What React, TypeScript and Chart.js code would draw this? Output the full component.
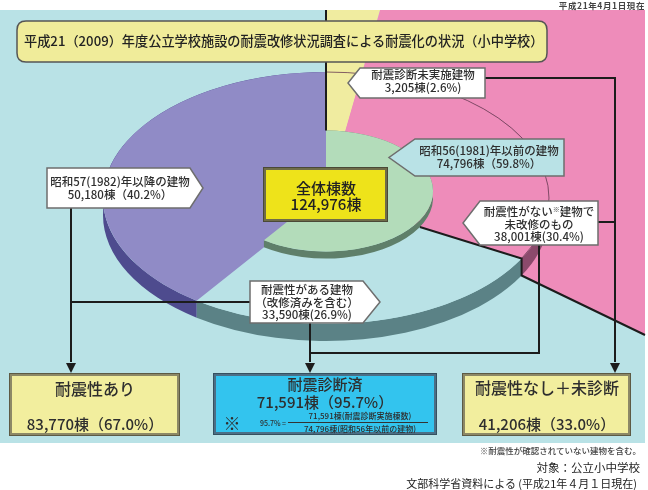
import React, { useEffect, useRef } from "react";
import { Chart, registerables } from "chart.js";

Chart.register(...registerables);

// ---------------- data ----------------
const totalBuildings = 124976;
const outerLabels = [
  "耐震診断未実施建物",
  "耐震性がない建物で未改修のもの",
  "耐震性がある建物（改修済みを含む）",
  "昭和57(1982)年以降の建物",
];
const outerValues = [3205, 38001, 33590, 50180];
const innerLabels = ["昭和56(1981)年以前の建物", "昭和57(1982)年以降の建物"];
const innerValues = [74796, 50180];
const summaryLabels = ["耐震性あり", "耐震診断済", "耐震性なし＋未診断"];
const summaryValues = [83770, 71591, 41206];
const summaryBases = [124976, 74796, 124976];

// ---------------- colours ----------------
const BG = "#b9e2e6";
const outerTop = ["#f0eca0", "#ee8cba", "#b9e2e6", "#908bc6"];
const outerRim = ["#b8b060", "#8b4a6c", "#5b8286", "#4e4b8e"];
const innerTop = ["#b3dcba", "rgba(0,0,0,0)"];
const innerRim = ["#5f7f6a", null];
const FONT = "'Noto Sans CJK JP', 'Noto Sans', sans-serif";
const TXT = "#2e2e2e";

// ---------------- layout ----------------
const W = 648;
const H = 490;
const CX = 326;
const R = 223;
const SURF_Y = 198;
const K = 0.565;
const DEPTH = 17;
const INNER_RATIO = 0.48;
const INNER_LIFT = 7;
const INNER_DEPTH = 7;
const BG_TOP = 10;
const BG_BOTTOM = 443;
const BG_RIGHT = 645;
const PINK_LOW_Y = 335;

const fmt = (v: number) => v.toLocaleString("en-US");
const pct = (v: number, base = totalBuildings) => ((v / base) * 100).toFixed(1);

function pt(cx: number, cy: number, r: number, phi: number): [number, number] {
  return [cx + r * Math.cos(phi), cy + r * K * Math.sin(phi)];
}
function rayX(cx: number, cy: number, phi: number, y: number) {
  const t = (y - cy) / (Math.sin(phi) * K);
  return cx + Math.cos(phi) * t;
}
function poly(ctx: CanvasRenderingContext2D, pts: number[][]) {
  ctx.beginPath();
  ctx.moveTo(pts[0][0], pts[0][1]);
  for (let i = 1; i < pts.length; i++) ctx.lineTo(pts[i][0], pts[i][1]);
  ctx.stroke();
}
function arrowDown(ctx: CanvasRenderingContext2D, x: number, tip: number) {
  ctx.beginPath();
  ctx.moveTo(x - 5, tip - 10);
  ctx.lineTo(x + 5, tip - 10);
  ctx.lineTo(x, tip);
  ctx.closePath();
  ctx.fill();
}
function callout(
  ctx: CanvasRenderingContext2D,
  l: number, t: number, r: number, b: number, tip: number, dir: "l" | "r", fill: string
) {
  const my = (t + b) / 2;
  ctx.beginPath();
  if (dir === "r") {
    ctx.moveTo(l, t); ctx.lineTo(r, t); ctx.lineTo(tip, my); ctx.lineTo(r, b); ctx.lineTo(l, b);
  } else {
    ctx.moveTo(r, t); ctx.lineTo(l, t); ctx.lineTo(tip, my); ctx.lineTo(l, b); ctx.lineTo(r, b);
  }
  ctx.closePath();
  ctx.fillStyle = fill;
  ctx.fill();
  ctx.lineWidth = 1.5;
  ctx.strokeStyle = "#6e6e6e";
  ctx.stroke();
}
function frameBox(
  ctx: CanvasRenderingContext2D,
  l: number, t: number, r: number, b: number, fill: string, border: string, outerLine: string
) {
  ctx.fillStyle = fill;
  ctx.fillRect(l, t, r - l, b - t);
  ctx.lineWidth = 3;
  ctx.strokeStyle = border;
  ctx.strokeRect(l + 1.5, t + 1.5, r - l - 3, b - t - 3);
  ctx.lineWidth = 1;
  ctx.strokeStyle = outerLine;
  ctx.strokeRect(l + 0.5, t + 0.5, r - l - 1, b - t - 1);
}

function drawBackground(chart: any) {
  const ctx: CanvasRenderingContext2D = chart.ctx;
  const outer = chart.getDatasetMeta(0).data as any[];
  ctx.save();
  ctx.fillStyle = "#ffffff";
  ctx.fillRect(0, 0, W, H);
  ctx.fillStyle = BG;
  ctx.fillRect(0, BG_TOP, BG_RIGHT, BG_BOTTOM - BG_TOP);
  if (outer.length) {
    const cx = outer[0].x;
    const r = outer[0].outerRadius;
    const yellow = outer[0];
    const pink = outer[1];
    const xTop = rayX(cx, SURF_Y, pink.startAngle, BG_TOP);
    ctx.beginPath();
    ctx.moveTo(cx, SURF_Y);
    ctx.lineTo(rayX(cx, SURF_Y, yellow.startAngle, BG_TOP), BG_TOP);
    ctx.lineTo(xTop, BG_TOP);
    ctx.closePath();
    ctx.fillStyle = outerTop[0];
    ctx.fill();
    const [ex, ey] = pt(cx, SURF_Y, r, pink.endAngle);
    ctx.beginPath();
    ctx.moveTo(cx, SURF_Y);
    ctx.lineTo(xTop, BG_TOP);
    ctx.lineTo(BG_RIGHT, BG_TOP);
    ctx.lineTo(BG_RIGHT, PINK_LOW_Y);
    ctx.lineTo(ex, ey + DEPTH);
    ctx.lineTo(ex, ey);
    ctx.closePath();
    ctx.fillStyle = outerTop[1];
    ctx.fill();
  }
  ctx.restore();
}

function drawOverlay(chart: any) {
  const ctx: CanvasRenderingContext2D = chart.ctx;
  const outer = chart.getDatasetMeta(0).data as any[];
  const inner = chart.getDatasetMeta(1).data as any[];
  if (!outer.length || !inner.length) return;
  const cx = outer[0].x;
  const r = outer[0].outerRadius;
  const ri = inner[0].outerRadius;
  const yellow = outer[0];
  const pink = outer[1];
  ctx.save();
  // pie edge seen over the yellow and pink areas
  ctx.beginPath();
  ctx.ellipse(cx, SURF_Y, r, r * K, 0, yellow.startAngle, pink.endAngle);
  ctx.strokeStyle = "#6b3d57";
  ctx.lineWidth = 0.8;
  ctx.stroke();

  ctx.strokeStyle = "#1c1c1c";
  ctx.fillStyle = "#1c1c1c";
  ctx.lineWidth = 2;
  // slice boundary lines
  poly(ctx, [[cx, BG_TOP], [cx, SURF_Y - INNER_LIFT - ri * K]]);
  const [gx, gy] = pt(cx, SURF_Y, ri, pink.endAngle);
  const [ex, ey] = pt(cx, SURF_Y, r, pink.endAngle);
  poly(ctx, [[gx, gy], [ex, ey], [ex, ey + DEPTH], [BG_RIGHT, PINK_LOW_Y]]);

  // leader lines
  poly(ctx, [[71, 208], [71, 362]]);
  poly(ctx, [[71, 302], [250, 302]]);
  poly(ctx, [[310, 323], [310, 362]]);
  poly(ctx, [[310, 353], [539, 353], [539, 245]]);
  poly(ctx, [[485, 78], [615, 78], [615, 362]]);
  poly(ctx, [[598, 222], [615, 222]]);
  arrowDown(ctx, 71, 373);
  arrowDown(ctx, 310, 373);
  arrowDown(ctx, 615, 373);

  // title box
  const tl = 17, tt = 21, tr = 547, tb = 62, rad = 9;
  ctx.beginPath();
  ctx.moveTo(tl + rad, tt);
  ctx.lineTo(tr - rad, tt);
  ctx.quadraticCurveTo(tr, tt, tr, tt + rad);
  ctx.lineTo(tr, tb - rad);
  ctx.quadraticCurveTo(tr, tb, tr - rad, tb);
  ctx.lineTo(tl + rad, tb);
  ctx.quadraticCurveTo(tl, tb, tl, tb - rad);
  ctx.lineTo(tl, tt + rad);
  ctx.quadraticCurveTo(tl, tt, tl + rad, tt);
  ctx.closePath();
  ctx.fillStyle = "#f0ec9a";
  ctx.fill();
  ctx.lineWidth = 1.5;
  ctx.strokeStyle = "#555";
  ctx.stroke();

  // callouts
  callout(ctx, 47, 168, 190, 208, 203, "r", "#ffffff");
  callout(ctx, 360, 68, 485, 98, 348, "l", "#ffffff");
  callout(ctx, 415, 139, 564, 176, 389, "l", BG);
  callout(ctx, 480, 201, 598, 245, 463, "l", "#ffffff");
  callout(ctx, 250, 281, 363, 323, 380, "r", "#ffffff");

  // centre box
  frameBox(ctx, 263, 167, 388, 222, "#eee31a", "#6f6c48", "#4a4936");

  // bottom boxes
  frameBox(ctx, 9, 373, 180, 436, "#f2ee9e", "#8c8866", "#5d5a44");
  frameBox(ctx, 213, 373, 437, 435, "#33c4ee", "#4b6f86", "#35505f");
  frameBox(ctx, 462, 373, 631, 436, "#f2ee9e", "#8c8866", "#5d5a44");
  // fraction bar
  ctx.beginPath();
  ctx.moveTo(288, 422.5);
  ctx.lineTo(428, 422.5);
  ctx.lineWidth = 1;
  ctx.strokeStyle = "#333";
  ctx.stroke();
  ctx.restore();
}

const pieDeco = {
  id: "pieDeco",
  afterDatasetsUpdate(chart: any) {
    const m0 = chart.getDatasetMeta(0);
    m0.data.forEach((a: any) => {
      a.innerRadius = 0;
    });
  },
  beforeDraw(chart: any) {
    drawBackground(chart);
  },
  beforeDatasetDraw(chart: any, args: any) {
    const ctx: CanvasRenderingContext2D = chart.ctx;
    const isInner = args.index === 1;
    const arcs = args.meta.data as any[];
    ctx.save();
    if (!arcs.length) return;
    const cy = SURF_Y - (isInner ? INNER_LIFT : 0);
    ctx.translate(0, cy);
    ctx.scale(1, K);
    ctx.translate(0, -arcs[0].y);
    const rims = isInner ? innerRim : outerRim;
    const depth = (isInner ? INNER_DEPTH : DEPTH) / K;
    arcs.forEach((a: any, i: number) => {
      const col = rims[i];
      if (!col) return;
      ctx.beginPath();
      ctx.arc(a.x, a.y, a.outerRadius, a.startAngle, a.endAngle);
      ctx.lineTo(a.x + a.outerRadius * Math.cos(a.endAngle), a.y + depth + a.outerRadius * Math.sin(a.endAngle));
      ctx.arc(a.x, a.y + depth, a.outerRadius, a.endAngle, a.startAngle, true);
      ctx.closePath();
      ctx.fillStyle = col;
      ctx.fill();
    });
  },
  afterDatasetDraw(chart: any) {
    chart.ctx.restore();
  },
  afterDraw(chart: any) {
    drawOverlay(chart);
  },
};

type TProps = {
  x: number; y: number; s: number; w?: number; a?: "c" | "l" | "r"; c?: string; ls?: number;
  children: React.ReactNode;
};
const T = ({ x, y, s, w = 500, a = "c", c = TXT, ls, children }: TProps) => {
  const style: React.CSSProperties = {
    position: "absolute",
    top: y,
    fontSize: s,
    fontWeight: w,
    color: c,
    whiteSpace: "nowrap",
    lineHeight: 1,
    letterSpacing: ls,
  };
  if (a === "c") {
    style.left = x;
    style.transform = "translate(-50%, -50%)";
  } else if (a === "l") {
    style.left = x;
    style.transform = "translateY(-50%)";
  } else {
    style.right = W - x;
    style.transform = "translateY(-50%)";
  }
  return <div style={style}>{children}</div>;
};

export default function App() {
  const ref = useRef<HTMLCanvasElement>(null);
  useEffect(() => {
    const pad = (H - 2 * R) / 2;
    const chart = new Chart(ref.current as HTMLCanvasElement, {
      type: "pie",
      data: {
        labels: outerLabels,
        datasets: [
          {
            label: "内訳",
            data: outerValues,
            backgroundColor: outerTop,
            borderWidth: 0,
            hoverBorderWidth: 0,
            hoverOffset: 0,
            weight: 1 - INNER_RATIO,
            order: 1,
            clip: false,
          } as any,
          {
            label: "建築年",
            data: innerValues,
            backgroundColor: innerTop,
            borderWidth: 0,
            hoverBorderWidth: 0,
            hoverOffset: 0,
            weight: INNER_RATIO,
            order: 0,
            clip: false,
          } as any,
        ],
      },
      options: {
        responsive: false,
        animation: false,
        events: [],
        layout: { padding: { left: CX - R, right: W - CX - R, top: pad, bottom: pad } },
        plugins: { legend: { display: false }, tooltip: { enabled: false } },
      },
      plugins: [pieDeco as any],
    });
    return () => chart.destroy();
  }, []);

  const o = outerValues;
  return (
    <div
      style={{
        position: "absolute",
        left: 0,
        top: 0,
        width: W,
        height: H,
        overflow: "hidden",
        background: "#fff",
        fontFamily: FONT,
      }}
    >
      <canvas ref={ref} width={W} height={H} style={{ position: "absolute", left: 0, top: 0 }} />

      <T x={645} y={5} s={8.5} a="r" w={700} c="#444" ls={0.6}>平成21年4月1日現在</T>
      <T x={24} y={41} s={13.2} a="l" c="#222">
        平成21（2009）年度公立学校施設の耐震改修状況調査による耐震化の状況（小中学校）
      </T>

      <T x={120} y={182} s={11.5}>{outerLabels[3]}</T>
      <T x={120} y={195} s={11.5}>{`${fmt(o[3])}棟（${pct(o[3])}%）`}</T>

      <T x={423} y={75} s={11.5}>{outerLabels[0]}</T>
      <T x={423} y={88} s={11.5}>{`${fmt(o[0])}棟(${pct(o[0])}%)`}</T>

      <T x={489} y={151} s={11.5}>{innerLabels[0]}</T>
      <T x={489} y={164} s={11.5}>{`${fmt(innerValues[0])}棟（${pct(innerValues[0])}%）`}</T>

      <T x={539} y={212} s={11.5}>
        耐震性がない<sup style={{ fontSize: 7, verticalAlign: "top" }}>※</sup>建物で
      </T>
      <T x={539} y={224.5} s={11.5}>未改修のもの</T>
      <T x={539} y={237} s={11.5}>{`${fmt(o[1])}棟(${pct(o[1])}%)`}</T>

      <T x={307} y={290} s={11.5}>耐震性がある建物</T>
      <T x={307} y={302.5} s={11.5}>（改修済みを含む）</T>
      <T x={307} y={315} s={11.5}>{`${fmt(o[2])}棟(${pct(o[2])}%)`}</T>

      <T x={326} y={187} s={15} c="#222">全体棟数</T>
      <T x={326} y={203} s={15} c="#222">{`${fmt(totalBuildings)}棟`}</T>

      <T x={95} y={388} s={16}>{summaryLabels[0]}</T>
      <T x={95} y={423} s={15}>{`${fmt(summaryValues[0])}棟（${pct(summaryValues[0], summaryBases[0])}%）`}</T>

      <T x={325} y={383} s={15}>{summaryLabels[1]}</T>
      <T x={325} y={401} s={15}>{`${fmt(summaryValues[1])}棟（${pct(summaryValues[1], summaryBases[1])}%）`}</T>
      <T x={232} y={422} s={17} w={400}>※</T>
      <T x={273} y={423} s={7}>{`${pct(summaryValues[1], summaryBases[1])}% =`}</T>
      <T x={360} y={416} s={8}>{`${fmt(summaryValues[1])}棟(耐震診断実施棟数)`}</T>
      <T x={360} y={429} s={8}>{`${fmt(innerValues[0])}棟(昭和56年以前の建物)`}</T>

      <T x={547} y={387} s={16}>{summaryLabels[2]}</T>
      <T x={547} y={423} s={15}>{`${fmt(summaryValues[2])}棟（${pct(summaryValues[2], summaryBases[2])}%）`}</T>

      <T x={641} y={450} s={8.5} a="r" c="#444">※耐震性が確認されていない建物を含む。</T>
      <T x={640} y={468} s={11.5} a="r" w={400} c="#222">対象：公立小中学校</T>
      <T x={637} y={483} s={11} a="r" w={400} c="#222">文部科学省資料による (平成21年４月１日現在)</T>
    </div>
  );
}
